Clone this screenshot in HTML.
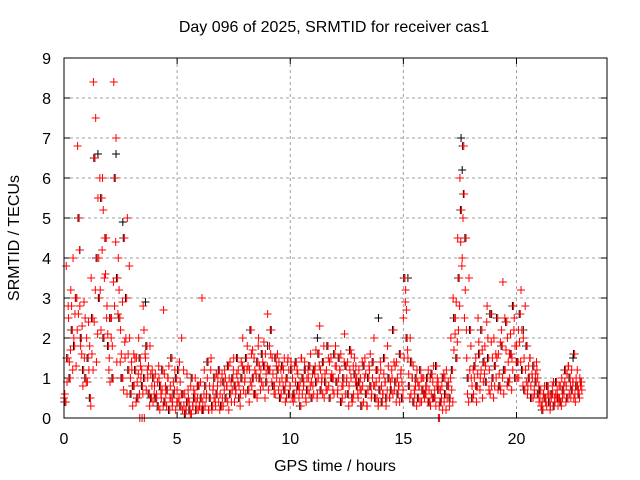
<!DOCTYPE html>
<html><head><meta charset="utf-8">
<style>
body{margin:0;background:#fff;}
svg{display:block;font-family:"Liberation Sans",sans-serif;}
</style></head>
<body>
<svg id="chart" width="640" height="480">
<text x="334" y="32" font-size="16" text-anchor="middle">Day 096 of 2025, SRMTID for receiver cas1</text>
<text x="335" y="471" font-size="16" text-anchor="middle">GPS time / hours</text>
<text transform="translate(19,238) rotate(-90)" font-size="16" text-anchor="middle">SRMTID / TECUs</text>
<g id="grid"></g>
<g id="ticks"></g>
<g id="black"></g>
<g id="red"></g>
<rect x="64" y="58" width="543" height="360" fill="none" stroke="#000" stroke-width="1"/>
</svg>
<script>
const xTicks=[0,5,10,15,20];
const yTicks=[0,1,2,3,4,5,6,7,8,9];
const seriesA=[0.5,3.8,2.5,3.2,4.0,3.0,6.8,2.8,2.3,1.5,
2.0,1.2,3.5,8.4,7.5,5.5,3.2,6.0,4.5,2.8,
1.5,2.5,8.4,7.0,4.0,2.2,1.0,1.5,5.0,2.0,
1.2,0.8,1.5,2.0,1.0,2.8,1.5,1.0,1.8,1.2,
0.8,0.5,1.0,0.5,2.7,0.6,1.0,0.8,0.4,1.2,
0.7,1.4,2.0,0.3,0.2,0.5,0.8,0.3,1.0,0.5,
0.3,3.0,1.2,0.6,0.2,1.5,0.8,0.3,1.0,0.6,
0.5,1.2,0.8,1.0,0.4,1.5,0.7,1.2,0.6,2.0,
1.0,1.8,1.2,0.8,1.5,1.0,2.0,1.2,0.8,1.6,
2.6,1.2,1.5,0.8,1.0,1.4,0.6,1.2,0.9,1.5,
0.8,1.0,0.5,1.2,0.7,1.5,0.9,0.4,1.0,1.6,
0.8,1.3,0.6,2.3,1.0,0.5,1.2,0.8,1.5,1.0,
1.8,0.7,1.2,0.5,2.1,1.0,0.8,1.6,0.6,1.3,
0.5,1.0,0.8,1.5,0.3,1.2,0.6,2.0,0.9,0.4,
1.2,0.6,0.9,1.8,0.5,1.0,0.7,1.4,0.8,1.2,
2.5,3.2,1.5,2.0,1.0,0.6,1.2,0.8,0.4,1.0,
0.6,1.2,0.3,0.9,0.5,1.0,0.0,0.8,0.4,1.2,
0.8,2.0,3.0,2.5,4.5,6.0,4.0,2.5,1.5,3.5,
1.0,0.6,1.5,2.5,1.0,0.5,1.8,2.8,1.2,0.8,
2.0,1.0,1.6,0.7,3.4,1.2,2.0,1.0,1.5,2.5,
1.8,1.0,3.2,2.0,1.2,0.8,1.5,1.0,0.6,1.2,
0.4,0.3,0.6,0.5,0.8,0.3,0.6,0.4,0.7,0.5,
1.0,0.6,0.8,1.3,0.5,0.9,0.4,0.8,1.0];
const seriesB=[0.4,1.5,1.0,2.2,1.8,3.0,5.0,2.0,1.2,1.0,
1.5,0.5,2.5,6.5,4.0,3.0,5.5,2.0,4.5,1.8,
2.5,1.0,6.0,3.5,2.5,1.0,4.5,3.0,1.2,0.6,
0.8,1.2,0.5,1.5,0.8,1.0,1.8,0.6,0.5,1.0,
0.5,0.3,0.8,1.2,0.4,0.7,0.2,1.5,0.6,1.0,
1.2,0.3,0.6,0.1,0.4,0.2,1.0,0.5,0.2,0.8,
0.5,0.2,0.8,1.4,0.5,0.3,1.0,0.6,1.2,0.3,
0.9,0.5,1.3,0.6,1.0,0.8,1.5,0.5,1.0,1.2,
1.5,0.7,2.2,1.0,0.6,1.4,1.0,1.6,1.3,0.9,
1.2,2.2,0.8,1.5,1.2,0.5,1.3,0.7,1.0,0.6,
1.2,0.6,1.4,0.8,0.3,1.0,1.2,0.7,1.3,0.5,
1.2,0.9,1.6,0.7,1.4,0.9,1.8,0.5,1.0,1.6,
0.9,1.5,0.4,1.0,1.3,0.6,1.7,0.5,1.1,0.8,
0.9,0.3,1.3,0.6,1.0,0.8,1.4,0.5,1.2,0.7,
0.4,1.5,0.5,1.0,0.7,2.2,0.9,0.6,1.6,0.5,
3.5,2.0,0.8,1.4,0.4,1.0,0.5,1.2,0.7,0.6,
1.0,0.4,1.1,0.5,1.3,0.7,0.4,1.0,0.6,0.8,
0.5,1.2,2.5,1.5,3.5,5.2,6.8,4.5,1.0,2.2,
0.5,1.3,0.8,1.6,2.2,1.4,0.9,1.5,2.6,1.0,
1.3,2.5,0.8,1.8,1.2,2.4,0.9,1.6,2.8,1.0,
1.4,2.6,1.2,0.7,1.8,1.0,0.5,1.3,0.9,0.6,
0.7,0.2,0.5,0.8,0.4,0.6,0.3,0.9,0.5,0.4,
0.7,1.2,0.5,1.0,0.7,1.6,0.8,0.6,0.9];
const seriesC=[0.6,0.9,1.4,2.8,2.0,1.3,2.6,1.8,0.8,2.5,
0.9,1.8,1.6,2.4,1.4,4.0,2.2,5.2,3.6,2.1,
0.9,1.8,2.8,1.4,3.2,1.6,0.7,2.0,1.6,1.0,
0.3,1.5,0.9,0.6,1.2,2.2,0.7,1.3,1.1,0.4,
1.1,0.9,0.2,0.7,1.1,0.3,1.3,0.5,0.9,0.2,
0.4,0.9,0.2,0.6,1.1,0.4,0.1,0.7,0.4,0.2,
0.9,0.4,0.3,1.0,0.8,0.2,0.5,1.1,0.4,0.9,
0.3,1.0,0.4,1.4,0.7,0.4,1.1,0.8,1.4,0.7,
0.6,1.3,0.9,1.7,1.2,0.5,1.3,0.9,1.9,1.1,
0.7,1.6,1.1,0.6,1.6,0.9,1.0,1.5,0.5,1.2,
1.4,0.4,0.9,1.1,0.9,0.6,1.4,1.0,0.6,0.9,
0.6,1.7,1.0,1.2,0.6,1.1,0.7,1.4,1.1,0.6,
1.3,1.0,1.6,0.8,0.6,1.4,1.2,0.4,1.5,1.0,
1.2,0.7,0.4,1.1,0.7,1.6,1.0,0.8,0.5,1.0,
0.8,1.1,0.3,1.3,0.9,0.6,1.3,1.0,0.4,0.9,
1.5,2.7,1.1,0.6,1.3,0.8,0.9,0.4,1.0,0.5,
0.8,0.7,0.6,1.3,0.3,0.9,0.7,0.2,1.0,0.5,
0.3,0.7,1.7,2.9,2.2,4.4,5.0,3.2,0.6,1.2,
0.8,1.0,0.4,1.9,1.2,0.9,1.3,2.0,0.6,1.5,
0.8,1.5,1.1,2.2,0.6,1.7,1.4,2.1,1.2,1.8,
1.0,1.9,2.2,1.5,0.9,1.3,0.8,0.5,1.1,1.0,
0.5,0.4,0.8,0.3,0.6,0.5,0.9,0.6,0.3,0.8,
0.5,0.9,1.1,0.6,1.2,0.5,1.0,0.7,0.8];
const seriesD=[0.4,2.8,1.7,1.2,2.6,2.2,4.2,1.6,2.9,0.9,
2.4,0.3,1.2,3.2,2.1,6.0,4.2,3.5,2.5,1.2,
2.0,3.4,4.4,2.6,1.4,2.9,1.9,0.6,3.8,1.4,
1.6,0.4,1.1,1.3,0.6,1.6,1.2,0.3,0.8,0.6,
0.6,1.3,0.6,0.3,0.8,1.0,0.5,0.3,0.7,0.4,
0.5,0.6,1.2,0.2,0.7,0.1,0.3,0.6,0.8,0.3,
0.2,0.6,0.5,0.2,1.2,0.7,0.4,0.8,0.2,1.1,
0.7,0.8,0.2,0.9,1.2,0.6,0.9,0.3,1.3,0.9,
1.2,0.4,1.6,0.6,1.1,1.8,0.7,1.4,0.5,1.3,
1.8,0.9,0.6,1.3,0.7,1.2,0.8,0.4,1.4,0.8,
0.5,1.3,0.7,0.5,1.5,0.8,0.5,1.2,0.8,1.1,
1.1,0.5,1.3,0.9,1.8,0.7,1.5,1.0,0.7,1.3,
0.6,1.2,0.8,1.4,0.9,0.3,1.0,1.3,0.9,0.6,
0.7,1.4,1.0,0.3,1.3,0.5,0.8,1.2,0.3,1.4,
0.6,0.9,0.7,0.5,1.2,1.4,0.4,0.8,1.1,0.7,
2.9,1.7,0.5,1.0,0.7,0.3,0.8,1.0,0.6,0.8,
0.4,1.0,0.5,0.7,0.8,0.3,0.5,1.1,0.2,0.9,
1.0,0.4,2.1,1.9,2.8,3.8,5.6,2.2,0.4,1.8,
1.2,0.8,1.1,0.7,1.7,1.1,2.4,0.7,1.9,0.5,
1.6,0.7,1.9,1.0,2.5,0.8,1.6,0.7,2.2,1.4,
2.2,1.4,0.8,2.8,0.6,1.5,1.1,0.7,1.4,0.8,
0.3,0.6,0.4,0.6,0.2,0.8,0.5,0.5,0.8,0.3,
0.8,0.4,1.3,0.8,0.9,0.6,1.2,0.5,0.7];
const zeroTimes=[3.35,3.45,3.55,16.55];
const blackTimes=[0.7,1.5,2.3,2.6,3.6,9.0,11.2,13.9,15.2,17.55,17.6,17.65,18.9,20.3,22.5];
const blackValues=[4.2,6.6,6.6,4.9,2.9,1.8,2.0,2.5,3.5,7.0,6.2,5.6,2.6,2.2,1.5];
const NS='http://www.w3.org/2000/svg';
const X=t=>64+t*(543/24);
const Y=v=>418-v*40;
const grid=document.getElementById('grid'),ticks=document.getElementById('ticks');
function mk(tag,at,parent){const e=document.createElementNS(NS,tag);for(const k in at)e.setAttribute(k,at[k]);parent.appendChild(e);return e;}
xTicks.forEach(t=>{
 const l=mk('line',{x1:X(t),x2:X(t),y1:58,y2:418,stroke:'#a0a0a0','stroke-dasharray':'3,3'},grid);
 
 
 const tm=mk('path',{d:`M${X(t)},418v-6M${X(t)},58v6`,stroke:'#000'},ticks);
 
 
 const tx=mk('text',{x:X(t),y:444,'font-size':16,'text-anchor':'middle'},ticks);
 tx.textContent=t;
 
 
});
yTicks.forEach(v=>{
 const l=mk('line',{x1:64,x2:607,y1:Y(v),y2:Y(v),stroke:'#a0a0a0','stroke-dasharray':'3,3'},grid);
 
 
 const tm=mk('path',{d:`M64,${Y(v)}h6M607,${Y(v)}h-6`,stroke:'#000'},ticks);
 
 
 const tx=mk('text',{x:51,y:Y(v)+6,'font-size':16,'text-anchor':'end'},ticks);
 tx.textContent=v;
 
 
});
function plus(t,v,color,parent){
 const x=X(t),y=Y(v);
 const p=mk('path',{d:`M${x-4},${y}H${x+4}M${x},${y-4}V${y+4}`,stroke:color,'stroke-width':1,fill:'none'},parent);
 
 
}
const bl=document.getElementById('black'),rd=document.getElementById('red');
blackTimes.forEach((t,i)=>plus(t,blackValues[i],'#000',bl));
seriesB.forEach((v,i)=>plus(i*0.1+0.02,v,'#000',bl));
seriesA.forEach((v,i)=>plus(i*0.1,v,'#f00',rd));
seriesB.forEach((v,i)=>plus(i*0.1+0.07,v,'#f00',rd));
seriesC.forEach((v,i)=>plus(i*0.1+0.035,v,'#f00',rd));
seriesD.forEach((v,i)=>plus(i*0.1+0.085,v,'#f00',rd));
zeroTimes.forEach(t=>plus(t,0,'#f00',rd));
</script>
</body></html>
